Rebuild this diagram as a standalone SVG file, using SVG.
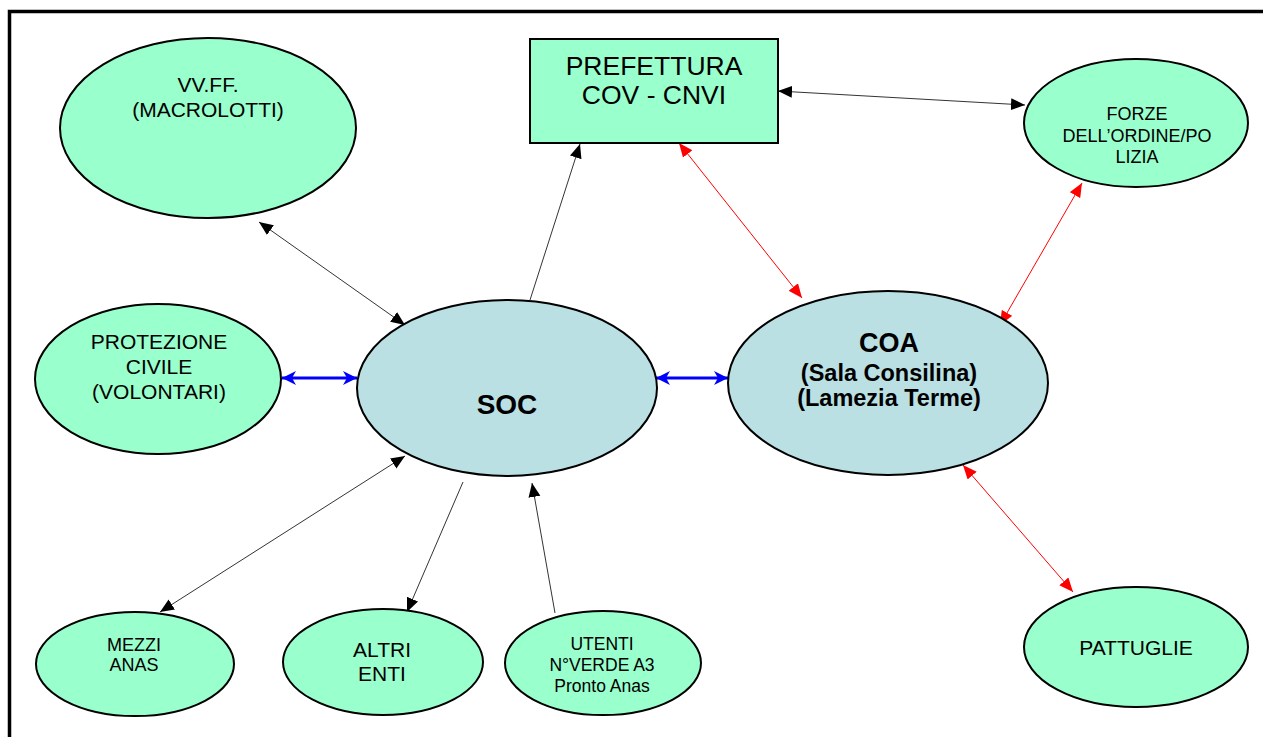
<svg xmlns="http://www.w3.org/2000/svg" width="1263" height="737" viewBox="0 0 1263 737">
<style>
.g{fill:#99FFCC;stroke:#000;stroke-width:2}
.b{fill:#BAE0E3;stroke:#000;stroke-width:2}
.t{font-family:"Liberation Sans",Arial,sans-serif;fill:#000;text-anchor:middle}
.bd{font-weight:bold}
.k{stroke:#333;stroke-width:1;fill:none}
.r{stroke:#FF0000;stroke-width:1;fill:none}
.u{stroke:#0000FF;stroke-width:3;fill:none}
</style>
<defs>
<marker id="ak" markerUnits="userSpaceOnUse" markerWidth="15" markerHeight="13" refX="14" refY="6" orient="auto-start-reverse"><path d="M0,0 L14,6 L0,12 z" fill="#000"/></marker>
<marker id="ar" markerUnits="userSpaceOnUse" markerWidth="15" markerHeight="13" refX="14" refY="6" orient="auto-start-reverse"><path d="M0,0 L14,6 L0,12 z" fill="#FF0000"/></marker>
<marker id="au" markerUnits="userSpaceOnUse" markerWidth="15" markerHeight="15" refX="14" refY="7" orient="auto-start-reverse"><path d="M0,0 L14,7 L0,14 L4,7 z" fill="#0000FF"/></marker>
</defs>
<rect x="0" y="0" width="1263" height="737" fill="#fff"/>
<rect x="9.5" y="11.5" width="1262" height="740" fill="none" stroke="#000" stroke-width="3.5"/>
<g id="connectors">
<line class="k" x1="259" y1="222" x2="405" y2="325" marker-start="url(#ak)" marker-end="url(#ak)"/>
<line class="k" x1="530" y1="300" x2="580" y2="144" marker-end="url(#ak)"/>
<line class="k" x1="778" y1="91" x2="1025" y2="105" marker-start="url(#ak)" marker-end="url(#ak)"/>
<line class="r" x1="679" y1="143" x2="802" y2="298" marker-start="url(#ar)" marker-end="url(#ar)"/>
<line class="r" x1="1082" y1="183" x2="1000" y2="325" marker-start="url(#ar)" marker-end="url(#ar)"/>
<line class="u" x1="282" y1="378" x2="357" y2="378" marker-start="url(#au)" marker-end="url(#au)"/>
<line class="u" x1="656" y1="378" x2="728" y2="378" marker-start="url(#au)" marker-end="url(#au)"/>
<line class="k" x1="160" y1="612" x2="405" y2="456" marker-start="url(#ak)" marker-end="url(#ak)"/>
<line class="k" x1="463" y1="482" x2="407" y2="612" marker-end="url(#ak)"/>
<line class="k" x1="555" y1="613" x2="532" y2="483" marker-end="url(#ak)"/>
<line class="r" x1="963" y1="465" x2="1073" y2="592" marker-start="url(#ar)" marker-end="url(#ar)"/>
</g>
<g id="vvff">
<ellipse class="g" cx="208" cy="128" rx="148" ry="90"/>
<text class="t" font-size="21" x="208" y="92">VV.FF.</text>
<text class="t" font-size="21" x="208" y="117">(MACROLOTTI)</text>
</g>
<g id="prefettura">
<rect class="g" x="530" y="39" width="248" height="104" stroke-width="1.5"/>
<text class="t" font-size="26.5" x="654" y="75">PREFETTURA</text>
<text class="t" font-size="26.5" x="654" y="104">COV - CNVI</text>
</g>
<g id="forze">
<ellipse class="g" cx="1136" cy="123" rx="112" ry="64"/>
<text class="t" font-size="18" x="1137" y="120">FORZE</text>
<text class="t" font-size="18" x="1137" y="142">DELL’ORDINE/PO</text>
<text class="t" font-size="18" x="1137" y="163">LIZIA</text>
</g>
<g id="protezione">
<ellipse class="g" cx="158" cy="379" rx="123" ry="75"/>
<text class="t" font-size="21" x="159" y="349">PROTEZIONE</text>
<text class="t" font-size="21" x="159" y="374">CIVILE</text>
<text class="t" font-size="21" x="159" y="399">(VOLONTARI)</text>
</g>
<g id="soc">
<ellipse class="b" cx="507" cy="388" rx="150" ry="88"/>
<text class="t bd" font-size="28" x="507" y="414">SOC</text>
</g>
<g id="coa">
<ellipse class="b" cx="888" cy="383" rx="160" ry="92"/>
<text class="t bd" font-size="27" x="889" y="352">COA</text>
<text class="t bd" font-size="23.5" x="889" y="381">(Sala Consilina)</text>
<text class="t bd" font-size="23.5" x="889" y="406">(Lamezia Terme)</text>
</g>
<g id="mezzi">
<ellipse class="g" cx="135" cy="664" rx="99" ry="52"/>
<text class="t" font-size="18" x="134" y="651">MEZZI</text>
<text class="t" font-size="18" x="134" y="671">ANAS</text>
</g>
<g id="altri">
<ellipse class="g" cx="383" cy="662" rx="100" ry="53"/>
<text class="t" font-size="21" x="382" y="657">ALTRI</text>
<text class="t" font-size="21" x="382" y="681">ENTI</text>
</g>
<g id="utenti">
<ellipse class="g" cx="603" cy="663" rx="98" ry="52"/>
<text class="t" font-size="17.5" x="602" y="650">UTENTI</text>
<text class="t" font-size="17.5" x="602" y="671">N°VERDE A3</text>
<text class="t" font-size="17.5" x="602" y="692">Pronto Anas</text>
</g>
<g id="pattuglie">
<ellipse class="g" cx="1136" cy="647" rx="112" ry="60"/>
<text class="t" font-size="21" x="1136" y="655">PATTUGLIE</text>
</g>
</svg>
